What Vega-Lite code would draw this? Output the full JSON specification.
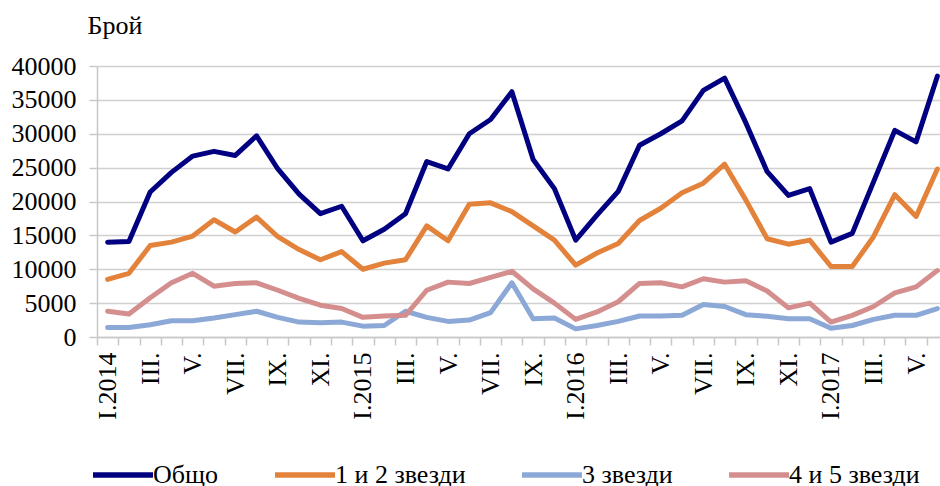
{
  "$schema": "https://vega.github.io/schema/vega-lite/v6.json",
  "autosize": {"type": "none"},
  "padding": {"left": 97, "top": 66, "right": 0, "bottom": 149},
  "width": 851,
  "height": 271,
  "background": "white",
  "config": {
    "view": {"stroke": null},
    "font": "Liberation Serif",
    "axis": {
      "labelFont": "Liberation Serif",
      "labelFontSize": 26,
      "labelColor": "#000000",
      "titleFont": "Liberation Serif",
      "titleFontSize": 26,
      "titleFontWeight": "normal",
      "titleColor": "#000000",
      "domainColor": "#C8C8C8",
      "domainWidth": 1.5,
      "tickColor": "#C8C8C8",
      "tickWidth": 1.5,
      "tickSize": 8,
      "gridColor": "#D0D0D0",
      "gridWidth": 1.5
    },
    "legend": {
      "labelFont": "Liberation Serif",
      "labelFontSize": 26,
      "labelColor": "#000000",
      "labelLimit": 400
    }
  },
  "data": {
    "values": [
      {"m":"2014-01","s":"Общо","v":14000},{"m":"2014-02","s":"Общо","v":14100},{"m":"2014-03","s":"Общо","v":21400},{"m":"2014-04","s":"Общо","v":24300},{"m":"2014-05","s":"Общо","v":26700},{"m":"2014-06","s":"Общо","v":27400},{"m":"2014-07","s":"Общо","v":26800},{"m":"2014-08","s":"Общо","v":29700},{"m":"2014-09","s":"Общо","v":24800},{"m":"2014-10","s":"Общо","v":21100},{"m":"2014-11","s":"Общо","v":18200},{"m":"2014-12","s":"Общо","v":19300},
      {"m":"2015-01","s":"Общо","v":14200},{"m":"2015-02","s":"Общо","v":15900},{"m":"2015-03","s":"Общо","v":18200},{"m":"2015-04","s":"Общо","v":25900},{"m":"2015-05","s":"Общо","v":24800},{"m":"2015-06","s":"Общо","v":30000},{"m":"2015-07","s":"Общо","v":32100},{"m":"2015-08","s":"Общо","v":36200},{"m":"2015-09","s":"Общо","v":26200},{"m":"2015-10","s":"Общо","v":21900},
      {"m":"2016-01","s":"Общо","v":14300},{"m":"2016-02","s":"Общо","v":18000},{"m":"2016-03","s":"Общо","v":21500},{"m":"2016-04","s":"Общо","v":28300},{"m":"2016-05","s":"Общо","v":30000},{"m":"2016-06","s":"Общо","v":31900},{"m":"2016-07","s":"Общо","v":36400},{"m":"2016-08","s":"Общо","v":38200},{"m":"2016-09","s":"Общо","v":31600},{"m":"2016-10","s":"Общо","v":24400},{"m":"2016-11","s":"Общо","v":20900},{"m":"2016-12","s":"Общо","v":21900},
      {"m":"2017-01","s":"Общо","v":14000},{"m":"2017-02","s":"Общо","v":15300},{"m":"2017-03","s":"Общо","v":22900},{"m":"2017-04","s":"Общо","v":30500},{"m":"2017-05","s":"Общо","v":28800},{"m":"2017-06","s":"Общо","v":38500},

      {"m":"2014-01","s":"1 и 2 звезди","v":8500},{"m":"2014-02","s":"1 и 2 звезди","v":9400},{"m":"2014-03","s":"1 и 2 звезди","v":13500},{"m":"2014-04","s":"1 и 2 звезди","v":14000},{"m":"2014-05","s":"1 и 2 звезди","v":14900},{"m":"2014-06","s":"1 и 2 звезди","v":17300},{"m":"2014-07","s":"1 и 2 звезди","v":15500},{"m":"2014-08","s":"1 и 2 звезди","v":17700},{"m":"2014-09","s":"1 и 2 звезди","v":14800},{"m":"2014-10","s":"1 и 2 звезди","v":12900},{"m":"2014-11","s":"1 и 2 звезди","v":11400},{"m":"2014-12","s":"1 и 2 звезди","v":12600},
      {"m":"2015-01","s":"1 и 2 звезди","v":10000},{"m":"2015-02","s":"1 и 2 звезди","v":10900},{"m":"2015-03","s":"1 и 2 звезди","v":11400},{"m":"2015-04","s":"1 и 2 звезди","v":16400},{"m":"2015-05","s":"1 и 2 звезди","v":14200},{"m":"2015-06","s":"1 и 2 звезди","v":19600},{"m":"2015-07","s":"1 и 2 звезди","v":19800},{"m":"2015-08","s":"1 и 2 звезди","v":18500},{"m":"2015-09","s":"1 и 2 звезди","v":16400},{"m":"2015-10","s":"1 и 2 звезди","v":14300},
      {"m":"2016-01","s":"1 и 2 звезди","v":10600},{"m":"2016-02","s":"1 и 2 звезди","v":12400},{"m":"2016-03","s":"1 и 2 звезди","v":13800},{"m":"2016-04","s":"1 и 2 звезди","v":17200},{"m":"2016-05","s":"1 и 2 звезди","v":19000},{"m":"2016-06","s":"1 и 2 звезди","v":21300},{"m":"2016-07","s":"1 и 2 звезди","v":22700},{"m":"2016-08","s":"1 и 2 звезди","v":25500},{"m":"2016-09","s":"1 и 2 звезди","v":20200},{"m":"2016-10","s":"1 и 2 звезди","v":14500},{"m":"2016-11","s":"1 и 2 звезди","v":13700},{"m":"2016-12","s":"1 и 2 звезди","v":14300},
      {"m":"2017-01","s":"1 и 2 звезди","v":10400},{"m":"2017-02","s":"1 и 2 звезди","v":10400},{"m":"2017-03","s":"1 и 2 звезди","v":14800},{"m":"2017-04","s":"1 и 2 звезди","v":21000},{"m":"2017-05","s":"1 и 2 звезди","v":17800},{"m":"2017-06","s":"1 и 2 звезди","v":24800},

      {"m":"2014-01","s":"3 звезди","v":1400},{"m":"2014-02","s":"3 звезди","v":1400},{"m":"2014-03","s":"3 звезди","v":1800},{"m":"2014-04","s":"3 звезди","v":2400},{"m":"2014-05","s":"3 звезди","v":2400},{"m":"2014-06","s":"3 звезди","v":2800},{"m":"2014-07","s":"3 звезди","v":3300},{"m":"2014-08","s":"3 звезди","v":3800},{"m":"2014-09","s":"3 звезди","v":2900},{"m":"2014-10","s":"3 звезди","v":2200},{"m":"2014-11","s":"3 звезди","v":2100},{"m":"2014-12","s":"3 звезди","v":2200},
      {"m":"2015-01","s":"3 звезди","v":1600},{"m":"2015-02","s":"3 звезди","v":1700},{"m":"2015-03","s":"3 звезди","v":3800},{"m":"2015-04","s":"3 звезди","v":2900},{"m":"2015-05","s":"3 звезди","v":2300},{"m":"2015-06","s":"3 звезди","v":2500},{"m":"2015-07","s":"3 звезди","v":3600},{"m":"2015-08","s":"3 звезди","v":8000},{"m":"2015-09","s":"3 звезди","v":2700},{"m":"2015-10","s":"3 звезди","v":2800},
      {"m":"2016-01","s":"3 звезди","v":1200},{"m":"2016-02","s":"3 звезди","v":1700},{"m":"2016-03","s":"3 звезди","v":2300},{"m":"2016-04","s":"3 звезди","v":3100},{"m":"2016-05","s":"3 звезди","v":3100},{"m":"2016-06","s":"3 звезди","v":3200},{"m":"2016-07","s":"3 звезди","v":4800},{"m":"2016-08","s":"3 звезди","v":4500},{"m":"2016-09","s":"3 звезди","v":3300},{"m":"2016-10","s":"3 звезди","v":3050},{"m":"2016-11","s":"3 звезди","v":2700},{"m":"2016-12","s":"3 звезди","v":2700},
      {"m":"2017-01","s":"3 звезди","v":1300},{"m":"2017-02","s":"3 звезди","v":1700},{"m":"2017-03","s":"3 звезди","v":2600},{"m":"2017-04","s":"3 звезди","v":3200},{"m":"2017-05","s":"3 звезди","v":3200},{"m":"2017-06","s":"3 звезди","v":4200},

      {"m":"2014-01","s":"4 и 5 звезди","v":3800},{"m":"2014-02","s":"4 и 5 звезди","v":3400},{"m":"2014-03","s":"4 и 5 звезди","v":5800},{"m":"2014-04","s":"4 и 5 звезди","v":8000},{"m":"2014-05","s":"4 и 5 звезди","v":9400},{"m":"2014-06","s":"4 и 5 звезди","v":7500},{"m":"2014-07","s":"4 и 5 звезди","v":7900},{"m":"2014-08","s":"4 и 5 звезди","v":8000},{"m":"2014-09","s":"4 и 5 звезди","v":6900},{"m":"2014-10","s":"4 и 5 звезди","v":5700},{"m":"2014-11","s":"4 и 5 звезди","v":4700},{"m":"2014-12","s":"4 и 5 звезди","v":4200},
      {"m":"2015-01","s":"4 и 5 звезди","v":2900},{"m":"2015-02","s":"4 и 5 звезди","v":3100},{"m":"2015-03","s":"4 и 5 звезди","v":3200},{"m":"2015-04","s":"4 и 5 звезди","v":6900},{"m":"2015-05","s":"4 и 5 звезди","v":8100},{"m":"2015-06","s":"4 и 5 звезди","v":7900},{"m":"2015-07","s":"4 и 5 звезди","v":8800},{"m":"2015-08","s":"4 и 5 звезди","v":9700},{"m":"2015-09","s":"4 и 5 звезди","v":7100},{"m":"2015-10","s":"4 и 5 звезди","v":5000},
      {"m":"2016-01","s":"4 и 5 звезди","v":2600},{"m":"2016-02","s":"4 и 5 звезди","v":3700},{"m":"2016-03","s":"4 и 5 звезди","v":5200},{"m":"2016-04","s":"4 и 5 звезди","v":7900},{"m":"2016-05","s":"4 и 5 звезди","v":8000},{"m":"2016-06","s":"4 и 5 звезди","v":7400},{"m":"2016-07","s":"4 и 5 звезди","v":8600},{"m":"2016-08","s":"4 и 5 звезди","v":8100},{"m":"2016-09","s":"4 и 5 звезди","v":8300},{"m":"2016-10","s":"4 и 5 звезди","v":6800},{"m":"2016-11","s":"4 и 5 звезди","v":4300},{"m":"2016-12","s":"4 и 5 звезди","v":5000},
      {"m":"2017-01","s":"4 и 5 звезди","v":2200},{"m":"2017-02","s":"4 и 5 звезди","v":3200},{"m":"2017-03","s":"4 и 5 звезди","v":4500},{"m":"2017-04","s":"4 и 5 звезди","v":6500},{"m":"2017-05","s":"4 и 5 звезди","v":7400},{"m":"2017-06","s":"4 и 5 звезди","v":9800}
    ]
  },
  "mark": {"type": "line", "strokeWidth": 5, "strokeJoin": "round", "strokeCap": "round"},
  "encoding": {
    "x": {
      "field": "m",
      "type": "ordinal",
      "sort": "ascending",
      "bandPosition": 0.5,
      "scale": {"type": "band", "paddingInner": 0, "paddingOuter": 0},
      "axis": {
        "title": null,
        "grid": false,
        "tickBand": "extent",
        "labelAngle": 270,
        "labelAlign": "right",
        "labelBaseline": "middle",
        "labelPadding": 7,
        "labelOverlap": false,
        "labelExpr": "!isString(datum.value) ? '' : ((toNumber(substring(datum.value,5,7)) % 2 == 0) ? '' : (substring(datum.value,5,7) == '01' ? 'I.' + substring(datum.value,0,4) : ['I','II','III','IV','V','VI','VII','VIII','IX','X','XI','XII'][toNumber(substring(datum.value,5,7)) - 1] + '.'))"
      }
    },
    "y": {
      "field": "v",
      "type": "quantitative",
      "scale": {"domain": [0, 40000], "nice": false},
      "axis": {
        "values": [0, 5000, 10000, 15000, 20000, 25000, 30000, 35000, 40000],
        "format": "d",
        "title": "Брой",
        "titleAngle": 0,
        "titleAlign": "left",
        "titleBaseline": "alphabetic",
        "titleX": -10,
        "titleY": -33,
        "labelPadding": 13
      }
    },
    "color": {
      "field": "s",
      "type": "nominal",
      "scale": {
        "domain": ["Общо", "1 и 2 звезди", "3 звезди", "4 и 5 звезди"],
        "range": ["#000080", "#E3823A", "#8CA8D6", "#D48E8E"]
      },
      "legend": {
        "title": null,
        "orient": "none",
        "direction": "horizontal",
        "legendX": -7,
        "legendY": 376,
        "symbolType": "stroke",
        "symbolSize": 3600,
        "symbolStrokeWidth": 5.5,
        "labelOffset": -3,
        "columnPadding": 45
      }
    }
  }
}
